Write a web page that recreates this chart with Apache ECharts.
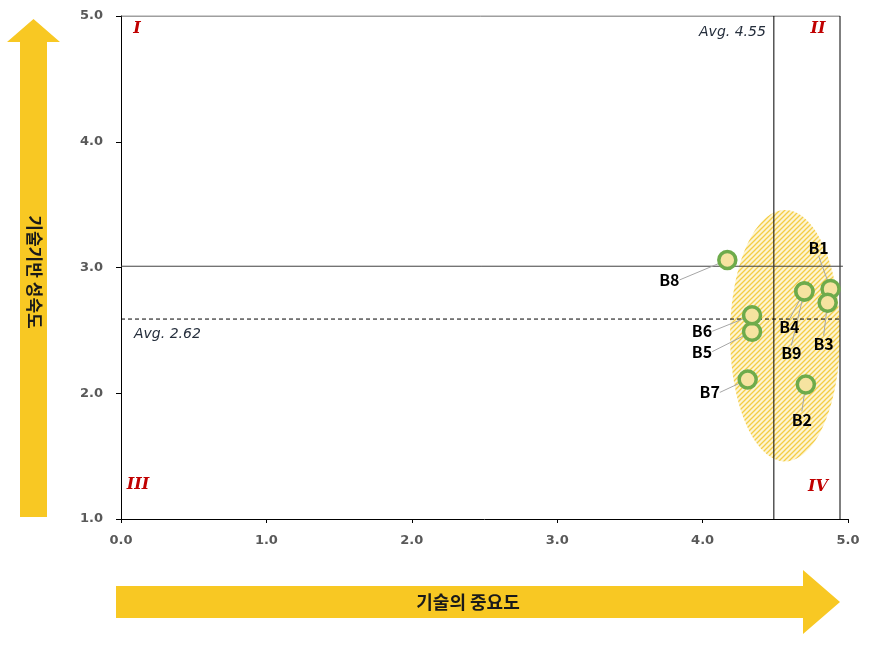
<!DOCTYPE html>
<html>
<head>
<meta charset="utf-8">
<script src="https://cdn.jsdelivr.net/npm/echarts@6/dist/echarts.min.js"></script>
<style>
html,body{margin:0;padding:0;background:#fff;}
#c{width:871px;height:653px;}
</style>
</head>
<body>
<div id="c"></div>
<script>
// ---- data ----
const names = ['B1','B2','B3','B4','B5','B6','B7','B8','B9'];
const importance = [4.88, 4.71, 4.86, 4.70, 4.34, 4.34, 4.31, 4.17, 4.70];
const maturity   = [2.83, 2.07, 2.72, 2.81, 2.49, 2.62, 2.11, 3.06, 2.81];
const xTicks = [0, 1, 2, 3, 4, 5];
const yTicks = [1, 2, 3, 4, 5];
const avgImportanceLabel = 'Avg. 4.55';
const avgMaturityLabel = 'Avg. 2.62';
const avgImportanceLine = 4.49;   // where the vertical line is drawn
const avgMaturityLine = 2.59;     // where the dashed line is drawn
const solidHLine = 3.01;
const borderX = 4.945;
const ellipse = [4.567, 2.458, 0.378, 1.0]; // cx, cy, rx, ry (data units)
const quadrants = ['I', 'II', 'III', 'IV'];
const xTitle = '기술의 중요도';
const yTitle = '기술기반 성숙도';

// label offsets (px) - style only
const labelOffsets = {B1:[-12,-41],B2:[-4,35],B3:[-4,41],B4:[-15,36],B5:[-50,20],B6:[-50,16],B7:[-38,13],B8:[-58,20],B9:[-13,62]};

// hatch pattern
const pc = document.createElement('canvas');
pc.width = 5; pc.height = 5;
const g = pc.getContext('2d');
g.fillStyle = 'rgba(253,245,212,1)';
g.fillRect(0,0,5,5);
g.strokeStyle = 'rgb(244,205,70)';
g.lineWidth = 1.3;
g.beginPath();
g.moveTo(-1,6); g.lineTo(6,-1);
g.moveTo(-1,1); g.lineTo(1,-1);
g.moveTo(4,6); g.lineTo(6,4);
g.stroke();

const chart = echarts.init(document.getElementById('c'), null, {renderer:'canvas'});
const tickLabel = {fontFamily:'DejaVu Sans', fontWeight:'bold', fontSize:13, color:'#595959'};

const option = {
  animation:false,
  grid:{left:121, right:23, top:16, bottom:134},
  xAxis:{type:'value', min:xTicks[0], max:xTicks[xTicks.length-1], interval:1,
    axisLine:{show:true, onZero:false, lineStyle:{color:'#000', width:1}},
    axisTick:{show:true, length:4, lineStyle:{color:'#000'}},
    axisLabel:{...tickLabel, margin:15, formatter:v=>v.toFixed(1)},
    splitLine:{show:false}},
  yAxis:{type:'value', min:yTicks[0], max:yTicks[yTicks.length-1], interval:1,
    axisLine:{show:true, onZero:false, lineStyle:{color:'#000', width:1}},
    axisTick:{show:true, length:5, lineStyle:{color:'#000'}},
    axisLabel:{...tickLabel, margin:18, formatter:v=>v.toFixed(1)},
    splitLine:{show:false}},
  series:[
    {type:'custom', z:1, silent:true, data:[ellipse],
      renderItem:function(params, api){
        const c = api.coord([api.value(0), api.value(1)]);
        const s = api.size([api.value(2), api.value(3)]);
        const pts = [];
        for(let i=0;i<96;i++){const a=i/96*Math.PI*2; pts.push([c[0]+s[0]*Math.cos(a), c[1]+s[1]*Math.sin(a)]);}
        return {type:'polygon', shape:{points:pts}, style:{fill:{image:pc, repeat:'repeat'}, stroke:null}};
      }},
    {type:'line', z:2, silent:true, symbol:'none', data:[[xTicks[0],5],[borderX,5]], lineStyle:{color:'#404040', width:1}},
    {type:'line', z:2, silent:true, symbol:'none', data:[[borderX,1],[borderX,5]], lineStyle:{color:'#000', width:1}},
    {type:'line', z:2, silent:true, symbol:'none', data:[[avgImportanceLine,1],[avgImportanceLine,5]], lineStyle:{color:'#000', width:1}},
    {type:'line', z:2, silent:true, symbol:'none', data:[[0,solidHLine],[4.965,solidHLine]], lineStyle:{color:'#404040', width:1}},
    {type:'line', z:2, silent:true, symbol:'none', data:[[0,avgMaturityLine],[borderX,avgMaturityLine]], lineStyle:{color:'#000', width:1, type:[4,3]}},
    {type:'scatter', z:5, symbol:'circle', symbolSize:17,
      data:names.map((n,i)=>({name:n, value:[importance[i], maturity[i]]})),
      itemStyle:{color:'#F6E3A0', borderColor:'#6EAB4B', borderWidth:3.5, opacity:1},
      label:{show:true, position:'inside', formatter:'{b}', fontFamily:'Noto Sans CJK KR', fontWeight:'bold', fontSize:16, color:'#000'},
      labelLine:{show:true, lineStyle:{color:'#A6A6A6', width:1}},
      labelLayout:function(p){const o = labelOffsets[names[p.dataIndex]]; return {dx:o[0], dy:o[1]};}
    }
  ]
};
chart.setOption(option);

const P = (x,y)=>chart.convertToPixel({gridIndex:0},[x,y]);
const pTL = P(0,5), pBR = P(5,1), pAvgX = P(avgImportanceLine,5), pAvgY = P(0,avgMaturityLine);
const arrowColor = '#F8C823';
const quadStyle = {fontFamily:'DejaVu Serif', fontStyle:'italic', fontWeight:'bold', fontSize:16, fill:'#C00000'};
const avgStyle = {fontFamily:'DejaVu Sans', fontStyle:'italic', fontSize:14, fill:'#262F3D'};

chart.setOption({graphic:[
  // left arrow
  {type:'polygon', silent:true, shape:{points:[[20,517],[20,42],[7,42],[33.5,19],[60,42],[47,42],[47,517]]}, style:{fill:arrowColor}},
  {type:'text', silent:true, x:34, y:272, rotation:-Math.PI/2, style:{text:yTitle, fontFamily:'Noto Sans CJK KR', fontWeight:'bold', fontSize:17, fill:'#1a1a1a', align:'center', verticalAlign:'middle'}},
  // bottom arrow
  {type:'polygon', silent:true, shape:{points:[[116,586],[803,586],[803,570],[840,602],[803,634],[803,618],[116,618]]}, style:{fill:arrowColor}},
  {type:'text', silent:true, x:468, y:602, style:{text:xTitle, fontFamily:'Noto Sans CJK KR', fontWeight:'bold', fontSize:18, fill:'#1a1a1a', align:'center', verticalAlign:'middle'}},
  // quadrant labels
  {type:'text', silent:true, x:pTL[0]+16, y:pTL[1]+13, style:{...quadStyle, text:quadrants[0], align:'center', verticalAlign:'middle'}},
  {type:'text', silent:true, x:818, y:pTL[1]+13, style:{...quadStyle, text:quadrants[1], align:'center', verticalAlign:'middle'}},
  {type:'text', silent:true, x:pTL[0]+17, y:pBR[1]-34, style:{...quadStyle, text:quadrants[2], align:'center', verticalAlign:'middle'}},
  {type:'text', silent:true, x:818, y:pBR[1]-32, style:{...quadStyle, text:quadrants[3], align:'center', verticalAlign:'middle'}},
  // avg labels
  {type:'text', silent:true, x:pAvgX[0]-8, y:pAvgX[1]+16, style:{...avgStyle, text:avgImportanceLabel, align:'right', verticalAlign:'middle'}},
  {type:'text', silent:true, x:pAvgY[0]+13, y:pAvgY[1]+15, style:{...avgStyle, text:avgMaturityLabel, align:'left', verticalAlign:'middle'}}
]});
</script>
</body>
</html>
